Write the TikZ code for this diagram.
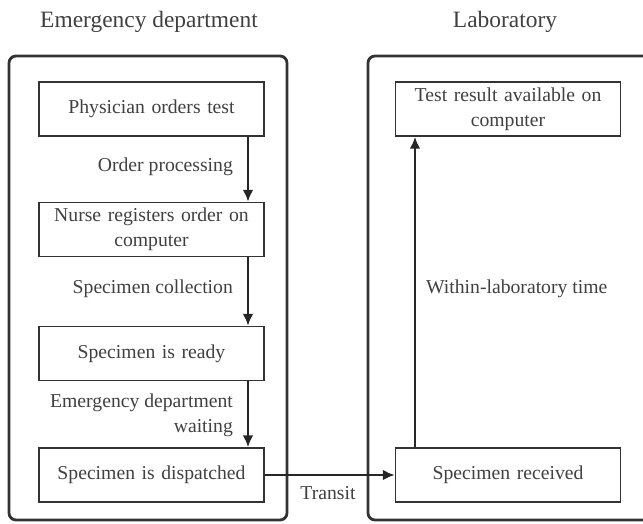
\documentclass[tikz,border=0pt]{standalone}
\usepackage{fontspec}
\setmainfont{Liberation Serif}
\usetikzlibrary{arrows.meta, positioning}

\begin{document}
\begin{tikzpicture}[x=0.03cm, y=-0.03cm,
  every node/.style={text=black!75, font=\fontsize{16.8}{21}\selectfont},
  frame/.style={draw=black!80, line width=2.4pt, rounded corners=6pt},
  stepbox/.style={draw=black!80, line width=1.4pt, minimum width=6.75cm,
    minimum height=1.62cm, text width=6.5cm, align=center, inner sep=0pt},
  headtext/.style={font=\fontsize{20}{24}\selectfont},
  flow/.style={draw=black!85, line width=1.8pt, -{Latex[length=10pt, width=9pt]}}]
\useasboundingbox (0,0) rectangle (643,523);
\clip (0,0) rectangle (643,523);
% the two areas
\draw [frame] (9,56) rectangle (287,520);
\draw [frame] (368,56) rectangle (652,520);
\node [headtext] (edtitle)  at (149,22) {Emergency department};
\node [headtext] (labtitle) at (505,22) {Laboratory};
% emergency department steps
\node [stepbox] (order)    at (151.5,109)   {Physician orders test};
\node [stepbox] (register) at (151.5,229.5) {Nurse registers order on\\computer};
\node [stepbox] (ready)    at (151.5,353.5) {Specimen is ready};
\node [stepbox] (dispatch) at (151.5,475)   {Specimen is dispatched};
% laboratory steps
\node [stepbox] (received) at (508,475) {Specimen received};
\node [stepbox] (result)   at (508,109) {Test result available on\\computer};
\coordinate (ax) at (248,0);
\coordinate (bx) at (415,0);
\draw [flow] (order.south -| ax)    -- (register.north -| ax);
\draw [flow] (register.south -| ax) -- (ready.north -| ax);
\draw [flow] (ready.south -| ax)    -- (dispatch.north -| ax);
\draw [flow] (dispatch.east) -- (received.west);
\draw [flow] (received.north -| bx) -- (result.south -| bx);
% time labels
\node [anchor=east] (tproc)  at (237,167) {Order processing};
\node [anchor=east] (tcoll)  at (237,289) {Specimen collection};
\node [anchor=east, align=right] (twait) at (237,415) {Emergency department\\waiting};
\node (ttrans) at (328,493) {Transit};
\node [anchor=west] (tlab) at (422,289) {Within-laboratory time};
\end{tikzpicture}
\end{document}
